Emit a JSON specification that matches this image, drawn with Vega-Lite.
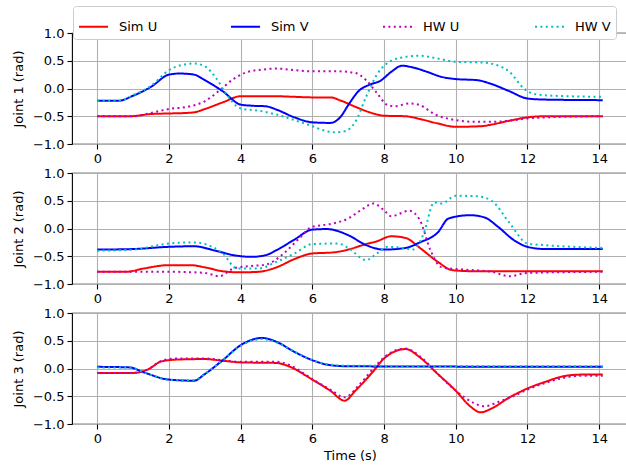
{
  "$schema": "https://vega.github.io/schema/vega-lite/v6.json",
  "autosize": {"type": "pad"},
  "padding": {"left": 11, "top": 5, "right": 0, "bottom": 0},
  "spacing": 29,
  "bounds": "flush",
  "background": "white",
  "data": {"values": [
    {"j":1,"s":"Sim U","t":0,"v":-0.5},{"j":1,"s":"Sim U","t":0.9,"v":-0.5},{"j":1,"s":"Sim U","t":1.5,"v":-0.46},{"j":1,"s":"Sim U","t":2,"v":-0.45},{"j":1,"s":"Sim U","t":2.5,"v":-0.44},{"j":1,"s":"Sim U","t":2.7,"v":-0.43},{"j":1,"s":"Sim U","t":3,"v":-0.37},{"j":1,"s":"Sim U","t":3.5,"v":-0.25},{"j":1,"s":"Sim U","t":4,"v":-0.14},{"j":1,"s":"Sim U","t":4.5,"v":-0.14},{"j":1,"s":"Sim U","t":5,"v":-0.14},{"j":1,"s":"Sim U","t":5.5,"v":-0.15},{"j":1,"s":"Sim U","t":6,"v":-0.16},{"j":1,"s":"Sim U","t":6.5,"v":-0.16},{"j":1,"s":"Sim U","t":6.8,"v":-0.22},{"j":1,"s":"Sim U","t":7.2,"v":-0.33},{"j":1,"s":"Sim U","t":7.6,"v":-0.43},{"j":1,"s":"Sim U","t":8,"v":-0.49},{"j":1,"s":"Sim U","t":8.6,"v":-0.5},{"j":1,"s":"Sim U","t":9,"v":-0.55},{"j":1,"s":"Sim U","t":9.5,"v":-0.63},{"j":1,"s":"Sim U","t":10,"v":-0.69},{"j":1,"s":"Sim U","t":10.7,"v":-0.68},{"j":1,"s":"Sim U","t":11,"v":-0.65},{"j":1,"s":"Sim U","t":11.5,"v":-0.58},{"j":1,"s":"Sim U","t":12,"v":-0.52},{"j":1,"s":"Sim U","t":12.5,"v":-0.5},{"j":1,"s":"Sim U","t":14.1,"v":-0.5},
    {"j":1,"s":"Sim V","t":0,"v":-0.22},{"j":1,"s":"Sim V","t":0.6,"v":-0.22},{"j":1,"s":"Sim V","t":1,"v":-0.13},{"j":1,"s":"Sim V","t":1.5,"v":0.03},{"j":1,"s":"Sim V","t":2,"v":0.25},{"j":1,"s":"Sim V","t":2.3,"v":0.27},{"j":1,"s":"Sim V","t":2.7,"v":0.25},{"j":1,"s":"Sim V","t":3,"v":0.15},{"j":1,"s":"Sim V","t":3.5,"v":-0.05},{"j":1,"s":"Sim V","t":4,"v":-0.29},{"j":1,"s":"Sim V","t":4.3,"v":-0.31},{"j":1,"s":"Sim V","t":4.7,"v":-0.32},{"j":1,"s":"Sim V","t":5,"v":-0.38},{"j":1,"s":"Sim V","t":5.5,"v":-0.52},{"j":1,"s":"Sim V","t":6,"v":-0.61},{"j":1,"s":"Sim V","t":6.5,"v":-0.62},{"j":1,"s":"Sim V","t":6.8,"v":-0.5},{"j":1,"s":"Sim V","t":7,"v":-0.3},{"j":1,"s":"Sim V","t":7.3,"v":-0.04},{"j":1,"s":"Sim V","t":7.6,"v":0.07},{"j":1,"s":"Sim V","t":7.9,"v":0.14},{"j":1,"s":"Sim V","t":8.2,"v":0.3},{"j":1,"s":"Sim V","t":8.5,"v":0.41},{"j":1,"s":"Sim V","t":8.8,"v":0.38},{"j":1,"s":"Sim V","t":9.2,"v":0.3},{"j":1,"s":"Sim V","t":9.6,"v":0.21},{"j":1,"s":"Sim V","t":10,"v":0.17},{"j":1,"s":"Sim V","t":10.6,"v":0.15},{"j":1,"s":"Sim V","t":11,"v":0.08},{"j":1,"s":"Sim V","t":11.5,"v":-0.05},{"j":1,"s":"Sim V","t":12,"v":-0.18},{"j":1,"s":"Sim V","t":12.5,"v":-0.2},{"j":1,"s":"Sim V","t":14.1,"v":-0.21},
    {"j":1,"s":"HW U","t":0,"v":-0.5},{"j":1,"s":"HW U","t":1,"v":-0.5},{"j":1,"s":"HW U","t":1.5,"v":-0.44},{"j":1,"s":"HW U","t":2,"v":-0.37},{"j":1,"s":"HW U","t":2.6,"v":-0.32},{"j":1,"s":"HW U","t":3,"v":-0.23},{"j":1,"s":"HW U","t":3.4,"v":-0.04},{"j":1,"s":"HW U","t":3.8,"v":0.17},{"j":1,"s":"HW U","t":4.2,"v":0.3},{"j":1,"s":"HW U","t":4.6,"v":0.34},{"j":1,"s":"HW U","t":5,"v":0.36},{"j":1,"s":"HW U","t":5.5,"v":0.33},{"j":1,"s":"HW U","t":6,"v":0.31},{"j":1,"s":"HW U","t":6.7,"v":0.31},{"j":1,"s":"HW U","t":7.2,"v":0.28},{"j":1,"s":"HW U","t":7.5,"v":0.15},{"j":1,"s":"HW U","t":7.8,"v":-0.08},{"j":1,"s":"HW U","t":8.1,"v":-0.3},{"j":1,"s":"HW U","t":8.3,"v":-0.32},{"j":1,"s":"HW U","t":8.7,"v":-0.27},{"j":1,"s":"HW U","t":9,"v":-0.3},{"j":1,"s":"HW U","t":9.4,"v":-0.46},{"j":1,"s":"HW U","t":10,"v":-0.57},{"j":1,"s":"HW U","t":10.5,"v":-0.6},{"j":1,"s":"HW U","t":11,"v":-0.6},{"j":1,"s":"HW U","t":11.5,"v":-0.58},{"j":1,"s":"HW U","t":12,"v":-0.54},{"j":1,"s":"HW U","t":13,"v":-0.51},{"j":1,"s":"HW U","t":14.1,"v":-0.5},
    {"j":1,"s":"HW V","t":0,"v":-0.22},{"j":1,"s":"HW V","t":0.6,"v":-0.22},{"j":1,"s":"HW V","t":1,"v":-0.12},{"j":1,"s":"HW V","t":1.5,"v":0.05},{"j":1,"s":"HW V","t":2,"v":0.33},{"j":1,"s":"HW V","t":2.4,"v":0.43},{"j":1,"s":"HW V","t":2.7,"v":0.45},{"j":1,"s":"HW V","t":3,"v":0.4},{"j":1,"s":"HW V","t":3.3,"v":0.2},{"j":1,"s":"HW V","t":3.6,"v":-0.1},{"j":1,"s":"HW V","t":4,"v":-0.36},{"j":1,"s":"HW V","t":4.5,"v":-0.4},{"j":1,"s":"HW V","t":5,"v":-0.47},{"j":1,"s":"HW V","t":5.5,"v":-0.57},{"j":1,"s":"HW V","t":6,"v":-0.68},{"j":1,"s":"HW V","t":6.4,"v":-0.77},{"j":1,"s":"HW V","t":6.6,"v":-0.79},{"j":1,"s":"HW V","t":6.9,"v":-0.77},{"j":1,"s":"HW V","t":7.2,"v":-0.6},{"j":1,"s":"HW V","t":7.5,"v":-0.15},{"j":1,"s":"HW V","t":7.8,"v":0.25},{"j":1,"s":"HW V","t":8.2,"v":0.5},{"j":1,"s":"HW V","t":8.6,"v":0.57},{"j":1,"s":"HW V","t":9,"v":0.59},{"j":1,"s":"HW V","t":9.5,"v":0.54},{"j":1,"s":"HW V","t":10,"v":0.48},{"j":1,"s":"HW V","t":10.7,"v":0.47},{"j":1,"s":"HW V","t":11.1,"v":0.43},{"j":1,"s":"HW V","t":11.5,"v":0.3},{"j":1,"s":"HW V","t":11.9,"v":0.0},{"j":1,"s":"HW V","t":12.2,"v":-0.1},{"j":1,"s":"HW V","t":12.7,"v":-0.13},{"j":1,"s":"HW V","t":14.1,"v":-0.15},
    {"j":2,"s":"Sim U","t":0,"v":-0.78},{"j":2,"s":"Sim U","t":0.8,"v":-0.78},{"j":2,"s":"Sim U","t":1.3,"v":-0.72},{"j":2,"s":"Sim U","t":2,"v":-0.66},{"j":2,"s":"Sim U","t":2.6,"v":-0.66},{"j":2,"s":"Sim U","t":3,"v":-0.7},{"j":2,"s":"Sim U","t":3.5,"v":-0.77},{"j":2,"s":"Sim U","t":4,"v":-0.79},{"j":2,"s":"Sim U","t":4.5,"v":-0.78},{"j":2,"s":"Sim U","t":5,"v":-0.7},{"j":2,"s":"Sim U","t":5.5,"v":-0.55},{"j":2,"s":"Sim U","t":6,"v":-0.45},{"j":2,"s":"Sim U","t":6.6,"v":-0.43},{"j":2,"s":"Sim U","t":7,"v":-0.38},{"j":2,"s":"Sim U","t":7.5,"v":-0.28},{"j":2,"s":"Sim U","t":7.8,"v":-0.23},{"j":2,"s":"Sim U","t":8.2,"v":-0.14},{"j":2,"s":"Sim U","t":8.6,"v":-0.17},{"j":2,"s":"Sim U","t":9,"v":-0.35},{"j":2,"s":"Sim U","t":9.5,"v":-0.6},{"j":2,"s":"Sim U","t":9.9,"v":-0.75},{"j":2,"s":"Sim U","t":10.5,"v":-0.77},{"j":2,"s":"Sim U","t":14.1,"v":-0.77},
    {"j":2,"s":"Sim V","t":0,"v":-0.38},{"j":2,"s":"Sim V","t":1,"v":-0.37},{"j":2,"s":"Sim V","t":2,"v":-0.33},{"j":2,"s":"Sim V","t":2.7,"v":-0.32},{"j":2,"s":"Sim V","t":3.3,"v":-0.4},{"j":2,"s":"Sim V","t":3.8,"v":-0.48},{"j":2,"s":"Sim V","t":4.3,"v":-0.51},{"j":2,"s":"Sim V","t":4.7,"v":-0.48},{"j":2,"s":"Sim V","t":5,"v":-0.39},{"j":2,"s":"Sim V","t":5.5,"v":-0.2},{"j":2,"s":"Sim V","t":6,"v":-0.02},{"j":2,"s":"Sim V","t":6.4,"v":-0.01},{"j":2,"s":"Sim V","t":7,"v":-0.12},{"j":2,"s":"Sim V","t":7.5,"v":-0.3},{"j":2,"s":"Sim V","t":8,"v":-0.38},{"j":2,"s":"Sim V","t":8.6,"v":-0.35},{"j":2,"s":"Sim V","t":9,"v":-0.25},{"j":2,"s":"Sim V","t":9.5,"v":-0.07},{"j":2,"s":"Sim V","t":9.8,"v":0.18},{"j":2,"s":"Sim V","t":10.4,"v":0.24},{"j":2,"s":"Sim V","t":10.8,"v":0.2},{"j":2,"s":"Sim V","t":11.2,"v":0.02},{"j":2,"s":"Sim V","t":11.6,"v":-0.2},{"j":2,"s":"Sim V","t":12,"v":-0.33},{"j":2,"s":"Sim V","t":12.5,"v":-0.37},{"j":2,"s":"Sim V","t":14.1,"v":-0.37},
    {"j":2,"s":"HW U","t":0,"v":-0.78},{"j":2,"s":"HW U","t":1,"v":-0.78},{"j":2,"s":"HW U","t":2,"v":-0.78},{"j":2,"s":"HW U","t":3,"v":-0.8},{"j":2,"s":"HW U","t":3.4,"v":-0.86},{"j":2,"s":"HW U","t":3.8,"v":-0.72},{"j":2,"s":"HW U","t":4.2,"v":-0.68},{"j":2,"s":"HW U","t":4.7,"v":-0.65},{"j":2,"s":"HW U","t":5.2,"v":-0.45},{"j":2,"s":"HW U","t":5.6,"v":-0.2},{"j":2,"s":"HW U","t":6,"v":0.03},{"j":2,"s":"HW U","t":6.5,"v":0.08},{"j":2,"s":"HW U","t":7,"v":0.18},{"j":2,"s":"HW U","t":7.4,"v":0.35},{"j":2,"s":"HW U","t":7.7,"v":0.45},{"j":2,"s":"HW U","t":8,"v":0.33},{"j":2,"s":"HW U","t":8.2,"v":0.22},{"j":2,"s":"HW U","t":8.7,"v":0.32},{"j":2,"s":"HW U","t":9,"v":0.15},{"j":2,"s":"HW U","t":9.3,"v":-0.4},{"j":2,"s":"HW U","t":9.6,"v":-0.7},{"j":2,"s":"HW U","t":10,"v":-0.73},{"j":2,"s":"HW U","t":11,"v":-0.78},{"j":2,"s":"HW U","t":11.5,"v":-0.86},{"j":2,"s":"HW U","t":12,"v":-0.8},{"j":2,"s":"HW U","t":14.1,"v":-0.78},
    {"j":2,"s":"HW V","t":0,"v":-0.4},{"j":2,"s":"HW V","t":1,"v":-0.38},{"j":2,"s":"HW V","t":2,"v":-0.27},{"j":2,"s":"HW V","t":2.7,"v":-0.25},{"j":2,"s":"HW V","t":3,"v":-0.28},{"j":2,"s":"HW V","t":3.5,"v":-0.45},{"j":2,"s":"HW V","t":3.9,"v":-0.72},{"j":2,"s":"HW V","t":4.5,"v":-0.72},{"j":2,"s":"HW V","t":5,"v":-0.6},{"j":2,"s":"HW V","t":5.5,"v":-0.45},{"j":2,"s":"HW V","t":6,"v":-0.28},{"j":2,"s":"HW V","t":6.7,"v":-0.27},{"j":2,"s":"HW V","t":7,"v":-0.35},{"j":2,"s":"HW V","t":7.5,"v":-0.57},{"j":2,"s":"HW V","t":7.8,"v":-0.45},{"j":2,"s":"HW V","t":8.1,"v":-0.33},{"j":2,"s":"HW V","t":8.5,"v":-0.35},{"j":2,"s":"HW V","t":8.8,"v":-0.38},{"j":2,"s":"HW V","t":9.1,"v":-0.1},{"j":2,"s":"HW V","t":9.4,"v":0.47},{"j":2,"s":"HW V","t":9.6,"v":0.45},{"j":2,"s":"HW V","t":10,"v":0.59},{"j":2,"s":"HW V","t":10.6,"v":0.58},{"j":2,"s":"HW V","t":11,"v":0.5},{"j":2,"s":"HW V","t":11.5,"v":0.1},{"j":2,"s":"HW V","t":12,"v":-0.27},{"j":2,"s":"HW V","t":12.5,"v":-0.3},{"j":2,"s":"HW V","t":14.1,"v":-0.35},
    {"j":3,"s":"Sim U","t":0,"v":-0.08},{"j":3,"s":"Sim U","t":1,"v":-0.08},{"j":3,"s":"Sim U","t":1.4,"v":-0.02},{"j":3,"s":"Sim U","t":1.8,"v":0.13},{"j":3,"s":"Sim U","t":2.2,"v":0.16},{"j":3,"s":"Sim U","t":3,"v":0.17},{"j":3,"s":"Sim U","t":3.5,"v":0.14},{"j":3,"s":"Sim U","t":4,"v":0.11},{"j":3,"s":"Sim U","t":5,"v":0.1},{"j":3,"s":"Sim U","t":5.3,"v":0.05},{"j":3,"s":"Sim U","t":6,"v":-0.2},{"j":3,"s":"Sim U","t":6.5,"v":-0.4},{"j":3,"s":"Sim U","t":6.9,"v":-0.58},{"j":3,"s":"Sim U","t":7.2,"v":-0.4},{"j":3,"s":"Sim U","t":7.7,"v":-0.05},{"j":3,"s":"Sim U","t":8,"v":0.18},{"j":3,"s":"Sim U","t":8.6,"v":0.35},{"j":3,"s":"Sim U","t":9,"v":0.2},{"j":3,"s":"Sim U","t":9.5,"v":-0.1},{"j":3,"s":"Sim U","t":10,"v":-0.4},{"j":3,"s":"Sim U","t":10.4,"v":-0.68},{"j":3,"s":"Sim U","t":10.7,"v":-0.79},{"j":3,"s":"Sim U","t":11,"v":-0.72},{"j":3,"s":"Sim U","t":11.5,"v":-0.52},{"j":3,"s":"Sim U","t":12,"v":-0.36},{"j":3,"s":"Sim U","t":12.5,"v":-0.24},{"j":3,"s":"Sim U","t":13,"v":-0.14},{"j":3,"s":"Sim U","t":13.5,"v":-0.11},{"j":3,"s":"Sim U","t":14.1,"v":-0.11},
    {"j":3,"s":"Sim V","t":0,"v":0.03},{"j":3,"s":"Sim V","t":0.9,"v":0.02},{"j":3,"s":"Sim V","t":1.3,"v":-0.07},{"j":3,"s":"Sim V","t":2,"v":-0.2},{"j":3,"s":"Sim V","t":2.7,"v":-0.22},{"j":3,"s":"Sim V","t":3,"v":-0.1},{"j":3,"s":"Sim V","t":3.5,"v":0.15},{"j":3,"s":"Sim V","t":4,"v":0.42},{"j":3,"s":"Sim V","t":4.6,"v":0.55},{"j":3,"s":"Sim V","t":5,"v":0.48},{"j":3,"s":"Sim V","t":5.5,"v":0.3},{"j":3,"s":"Sim V","t":6,"v":0.15},{"j":3,"s":"Sim V","t":6.5,"v":0.06},{"j":3,"s":"Sim V","t":7,"v":0.04},{"j":3,"s":"Sim V","t":14.1,"v":0.03},
    {"j":3,"s":"HW U","t":0,"v":-0.08},{"j":3,"s":"HW U","t":1,"v":-0.08},{"j":3,"s":"HW U","t":1.4,"v":-0.02},{"j":3,"s":"HW U","t":1.8,"v":0.14},{"j":3,"s":"HW U","t":2.2,"v":0.18},{"j":3,"s":"HW U","t":3,"v":0.18},{"j":3,"s":"HW U","t":3.5,"v":0.15},{"j":3,"s":"HW U","t":4,"v":0.12},{"j":3,"s":"HW U","t":5,"v":0.12},{"j":3,"s":"HW U","t":5.4,"v":0.05},{"j":3,"s":"HW U","t":6,"v":-0.19},{"j":3,"s":"HW U","t":6.5,"v":-0.38},{"j":3,"s":"HW U","t":6.9,"v":-0.52},{"j":3,"s":"HW U","t":7.3,"v":-0.3},{"j":3,"s":"HW U","t":7.7,"v":0.0},{"j":3,"s":"HW U","t":8,"v":0.2},{"j":3,"s":"HW U","t":8.6,"v":0.36},{"j":3,"s":"HW U","t":9,"v":0.22},{"j":3,"s":"HW U","t":9.5,"v":-0.1},{"j":3,"s":"HW U","t":10,"v":-0.4},{"j":3,"s":"HW U","t":10.5,"v":-0.62},{"j":3,"s":"HW U","t":10.8,"v":-0.68},{"j":3,"s":"HW U","t":11.2,"v":-0.6},{"j":3,"s":"HW U","t":11.6,"v":-0.5},{"j":3,"s":"HW U","t":12,"v":-0.38},{"j":3,"s":"HW U","t":12.5,"v":-0.26},{"j":3,"s":"HW U","t":13,"v":-0.17},{"j":3,"s":"HW U","t":13.5,"v":-0.13},{"j":3,"s":"HW U","t":14.1,"v":-0.13},
    {"j":3,"s":"HW V","t":0,"v":0.02},{"j":3,"s":"HW V","t":0.9,"v":0.02},{"j":3,"s":"HW V","t":1.3,"v":-0.07},{"j":3,"s":"HW V","t":2,"v":-0.2},{"j":3,"s":"HW V","t":2.7,"v":-0.21},{"j":3,"s":"HW V","t":3,"v":-0.1},{"j":3,"s":"HW V","t":3.5,"v":0.15},{"j":3,"s":"HW V","t":4,"v":0.41},{"j":3,"s":"HW V","t":4.6,"v":0.53},{"j":3,"s":"HW V","t":5,"v":0.47},{"j":3,"s":"HW V","t":5.5,"v":0.3},{"j":3,"s":"HW V","t":6,"v":0.15},{"j":3,"s":"HW V","t":6.5,"v":0.07},{"j":3,"s":"HW V","t":7,"v":0.05},{"j":3,"s":"HW V","t":14.1,"v":0.04}
  ]},
  "vconcat": [
    {
      "width": 556, "height": 111,
      "transform": [{"filter": "datum.j == 1"}],
      "mark": {"type": "line", "interpolate": "monotone", "strokeWidth": 2, "clip": true},
      "encoding": {
        "x": {"field": "t", "type": "quantitative", "scale": {"domain": [-0.705, 14.805], "nice": false, "zero": false}, "axis": {"values": [0,2,4,6,8,10,12,14], "title": null}},
        "y": {"field": "v", "type": "quantitative", "scale": {"domain": [-1, 1], "nice": false}, "axis": {"values": [-1,-0.5,0,0.5,1], "format": ".1f", "title": "Joint 1 (rad)"}},
        "color": {"field": "s", "type": "nominal", "scale": {"domain": ["Sim U","Sim V","HW U","HW V"], "range": ["#ff0000","#0000ff","#bf00bf","#00bfbf"]}, "legend": {"title": null}},
        "strokeDash": {"field": "s", "type": "nominal", "scale": {"domain": ["Sim U","Sim V","HW U","HW V"], "range": [[1,0],[1,0],[2,3.4],[2,3.4]]}, "legend": {"title": null}}
      }
    },
    {
      "width": 556, "height": 111,
      "transform": [{"filter": "datum.j == 2"}],
      "mark": {"type": "line", "interpolate": "monotone", "strokeWidth": 2, "clip": true},
      "encoding": {
        "x": {"field": "t", "type": "quantitative", "scale": {"domain": [-0.705, 14.805], "nice": false, "zero": false}, "axis": {"values": [0,2,4,6,8,10,12,14], "title": null}},
        "y": {"field": "v", "type": "quantitative", "scale": {"domain": [-1, 1], "nice": false}, "axis": {"values": [-1,-0.5,0,0.5,1], "format": ".1f", "title": "Joint 2 (rad)"}},
        "color": {"field": "s", "type": "nominal", "scale": {"domain": ["Sim U","Sim V","HW U","HW V"], "range": ["#ff0000","#0000ff","#bf00bf","#00bfbf"]}, "legend": {"title": null}},
        "strokeDash": {"field": "s", "type": "nominal", "scale": {"domain": ["Sim U","Sim V","HW U","HW V"], "range": [[1,0],[1,0],[2,3.4],[2,3.4]]}, "legend": {"title": null}}
      }
    },
    {
      "width": 556, "height": 111,
      "transform": [{"filter": "datum.j == 3"}],
      "mark": {"type": "line", "interpolate": "monotone", "strokeWidth": 2, "clip": true},
      "encoding": {
        "x": {"field": "t", "type": "quantitative", "scale": {"domain": [-0.705, 14.805], "nice": false, "zero": false}, "axis": {"values": [0,2,4,6,8,10,12,14], "title": "Time (s)"}},
        "y": {"field": "v", "type": "quantitative", "scale": {"domain": [-1, 1], "nice": false}, "axis": {"values": [-1,-0.5,0,0.5,1], "format": ".1f", "title": "Joint 3 (rad)"}},
        "color": {"field": "s", "type": "nominal", "scale": {"domain": ["Sim U","Sim V","HW U","HW V"], "range": ["#ff0000","#0000ff","#bf00bf","#00bfbf"]}, "legend": {"title": null}},
        "strokeDash": {"field": "s", "type": "nominal", "scale": {"domain": ["Sim U","Sim V","HW U","HW V"], "range": [[1,0],[1,0],[2,3.4],[2,3.4]]}, "legend": {"title": null}}
      }
    }
  ],
  "resolve": {"scale": {"color": "shared", "strokeDash": "shared"}, "legend": {"color": "shared", "strokeDash": "shared"}},
  "config": {
    "font": "DejaVu Sans",
    "view": {"stroke": "#000000", "strokeWidth": 1.1},
    "axis": {
      "labelFont": "DejaVu Sans", "labelFontSize": 13, "labelColor": "#000000",
      "titleFont": "DejaVu Sans", "titleFontSize": 13, "titleFontWeight": "normal", "titleColor": "#000000",
      "domain": false, "tickColor": "#000000", "tickSize": 5, "tickWidth": 1.1,
      "grid": true, "gridColor": "#b0b0b0", "gridWidth": 1.1,
      "labelPadding": 3, "labelFlush": false, "labelOverlap": false
    },
    "axisY": {"titlePadding": 7},
    "axisX": {"titlePadding": 4},
    "legend": {
      "orient": "none", "legendX": 1, "legendY": -27,
      "direction": "horizontal", "columns": 4, "gridAlign": "all", "columnPadding": 69,
      "symbolType": "stroke", "symbolSize": 841, "symbolStrokeWidth": 2,
      "labelFont": "DejaVu Sans", "labelFontSize": 13, "labelColor": "#000000", "labelOffset": 10,
      "padding": 5, "strokeColor": "#cccccc", "fillColor": "#ffffff", "cornerRadius": 3
    }
  }
}
